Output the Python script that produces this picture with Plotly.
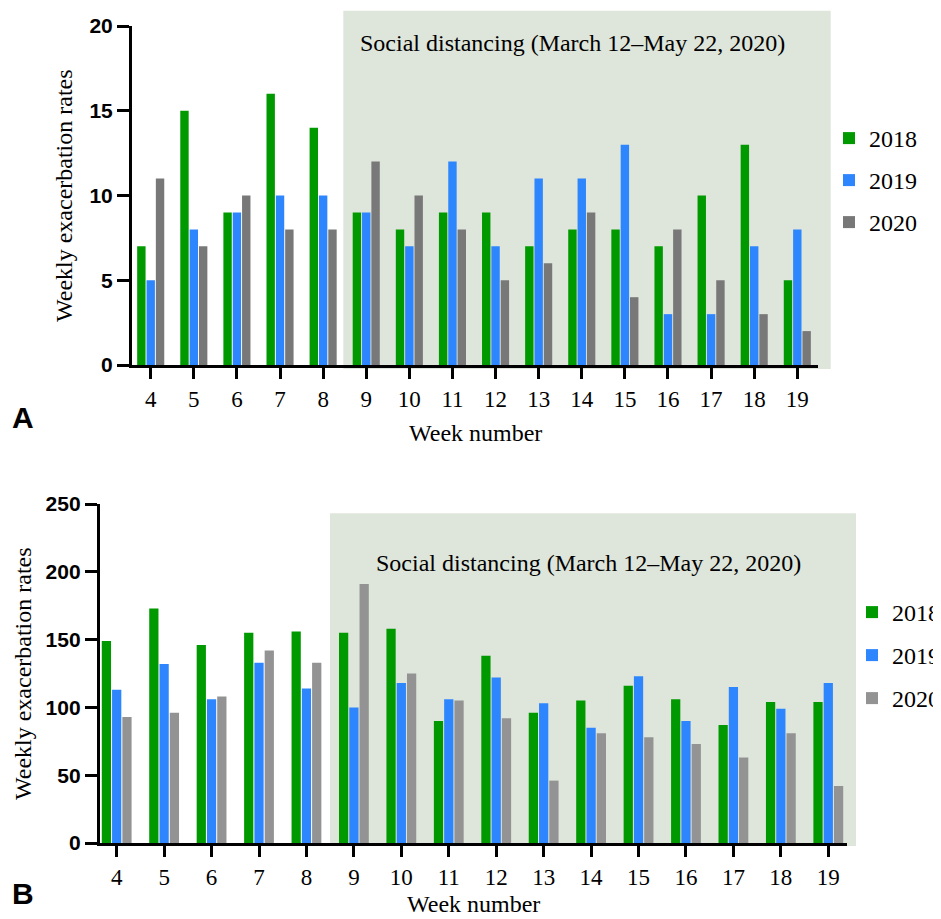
import plotly.graph_objects as go

# ---------------- data ----------------
WEEKS = [4, 5, 6, 7, 8, 9, 10, 11, 12, 13, 14, 15, 16, 17, 18, 19]
YEARS = ["2018", "2019", "2020"]

# Panel A
A_2018 = [7, 15, 9, 16, 14, 9, 8, 9, 9, 7, 8, 8, 7, 10, 13, 5]
A_2019 = [5, 8, 9, 10, 10, 9, 7, 12, 7, 11, 11, 13, 3, 3, 7, 8]
A_2020 = [11, 7, 10, 8, 8, 12, 10, 8, 5, 6, 9, 4, 8, 5, 3, 2]

# Panel B
B_2018 = [149, 173, 146, 155, 156, 155, 158, 90, 138, 96, 105, 116, 106, 87, 104, 104]
B_2019 = [113, 132, 106, 133, 114, 100, 118, 106, 122, 103, 85, 123, 90, 115, 99, 118]
B_2020 = [93, 96, 108, 142, 133, 191, 125, 105, 92, 46, 81, 78, 73, 63, 81, 42]

A_TICKS = [0, 5, 10, 15, 20]
B_TICKS = [0, 50, 100, 150, 200, 250]

SHADE_LABEL = "Social distancing (March 12\u2013May 22, 2020)"
Y_TITLE = "Weekly exacerbation rates"
X_TITLE = "Week number"

# ---------------- style ----------------
# the page body has an 8px margin, so the figure is drawn 8px in from the window corner;
# the figure is kept at full window size so nothing near the right/bottom edge is clipped
OFF = 8
WF, HF = 941, 919
SERIF = "Liberation Serif, Times New Roman, serif"
SANS = "Liberation Sans, Arial, sans-serif"
GREEN = "#009A00"
BLUE = "#2E86FF"
GRAY_A = "#787878"
GRAY_B = "#939393"
SHADE = "#DEE5DA"


def px(x):
    """window pixel x -> paper fraction"""
    return (x - OFF) / WF


def py(y):
    """window pixel y -> paper fraction"""
    return 1 - (y - OFF) / HF


fig = go.Figure()

for name, vals, col in zip(YEARS, [A_2018, A_2019, A_2020], [GREEN, BLUE, GRAY_A]):
    fig.add_trace(go.Bar(x=WEEKS, y=vals, name=name, marker=dict(color=col, line=dict(width=0)),
                         xaxis="x", yaxis="y", legend="legend", legendgroup="a" + name))
for name, vals, col in zip(YEARS, [B_2018, B_2019, B_2020], [GREEN, BLUE, GRAY_B]):
    fig.add_trace(go.Bar(x=WEEKS, y=vals, name=name, marker=dict(color=col, line=dict(width=0)),
                         xaxis="x2", yaxis="y2", legend="legend2", legendgroup="b" + name))

axis_common = dict(showgrid=False, zeroline=False, showline=True, linecolor="black",
                   linewidth=3, ticks="outside", tickcolor="black", tickwidth=3,
                   automargin=False)

fig.update_layout(
    width=WF, height=HF,
    margin=dict(l=0, r=0, t=0, b=0, autoexpand=False),
    paper_bgcolor="white", plot_bgcolor="rgba(0,0,0,0)",
    barmode="group", bargap=0.35, bargroupgap=0.1,
    xaxis=dict(domain=[px(132), px(818)], anchor="y", range=[3.566, 19.48],
               tickvals=WEEKS, ticklen=11,
               tickfont=dict(family=SERIF, size=23, color="black"), **axis_common),
    yaxis=dict(domain=[py(365), py(26)], anchor="x", range=[0, 20], tickvals=A_TICKS, ticklen=12,
               tickfont=dict(family=SANS, size=21, color="black", weight="bold"), **axis_common),
    xaxis2=dict(domain=[px(99.8), px(846.7)], anchor="y2", range=[3.644, 19.388],
                tickvals=WEEKS, ticklen=11,
                tickfont=dict(family=SERIF, size=23, color="black"), **axis_common),
    yaxis2=dict(domain=[py(843), py(504)], anchor="x2", range=[0, 250], tickvals=B_TICKS, ticklen=12,
                tickfont=dict(family=SANS, size=21, color="black", weight="bold"), **axis_common),
    legend=dict(x=px(829), y=py(116), xanchor="left", yanchor="top", bgcolor="rgba(0,0,0,0)",
                font=dict(family=SERIF, size=24, color="black"), tracegroupgap=7.8),
    legend2=dict(x=px(852), y=py(590), xanchor="left", yanchor="top", bgcolor="rgba(0,0,0,0)",
                 font=dict(family=SERIF, size=24, color="black"), tracegroupgap=8.8),
    showlegend=True,
)

# shaded social distancing periods (background)
fig.add_shape(type="rect", xref="paper", yref="paper", x0=px(343.3), x1=px(830.7),
              y0=py(369), y1=py(10.7), fillcolor=SHADE, line=dict(width=0), layer="below")
fig.add_shape(type="rect", xref="paper", yref="paper", x0=px(330), x1=px(856),
              y0=py(846), y1=py(513.3), fillcolor=SHADE, line=dict(width=0), layer="below")

ann = []
ann.append(dict(text=SHADE_LABEL, x=px(358), y=py(43.3), xanchor="left", yanchor="middle"))
ann.append(dict(text=SHADE_LABEL, x=px(374), y=py(563), xanchor="left", yanchor="middle"))
ann.append(dict(text=X_TITLE, x=px(475), y=py(433), xanchor="center", yanchor="middle"))
ann.append(dict(text=X_TITLE, x=px(473), y=py(904), xanchor="center", yanchor="middle"))
ann.append(dict(text=Y_TITLE, x=px(64.5), y=py(195.5), xanchor="center", yanchor="middle", textangle=-90))
ann.append(dict(text=Y_TITLE, x=px(22.5), y=py(673.5), xanchor="center", yanchor="middle", textangle=-90))
for a in ann:
    a.update(xref="paper", yref="paper", showarrow=False, font=dict(family=SERIF, size=24, color="black"))
    fig.add_annotation(**a)

for lab, yy in [("A", 417.5), ("B", 893)]:
    fig.add_annotation(text="<b>%s</b>" % lab, x=px(22.5), y=py(yy), xref="paper", yref="paper",
                       showarrow=False, xanchor="center", yanchor="middle",
                       font=dict(family=SANS, size=30, color="black"))

fig.write_html("out.html")
